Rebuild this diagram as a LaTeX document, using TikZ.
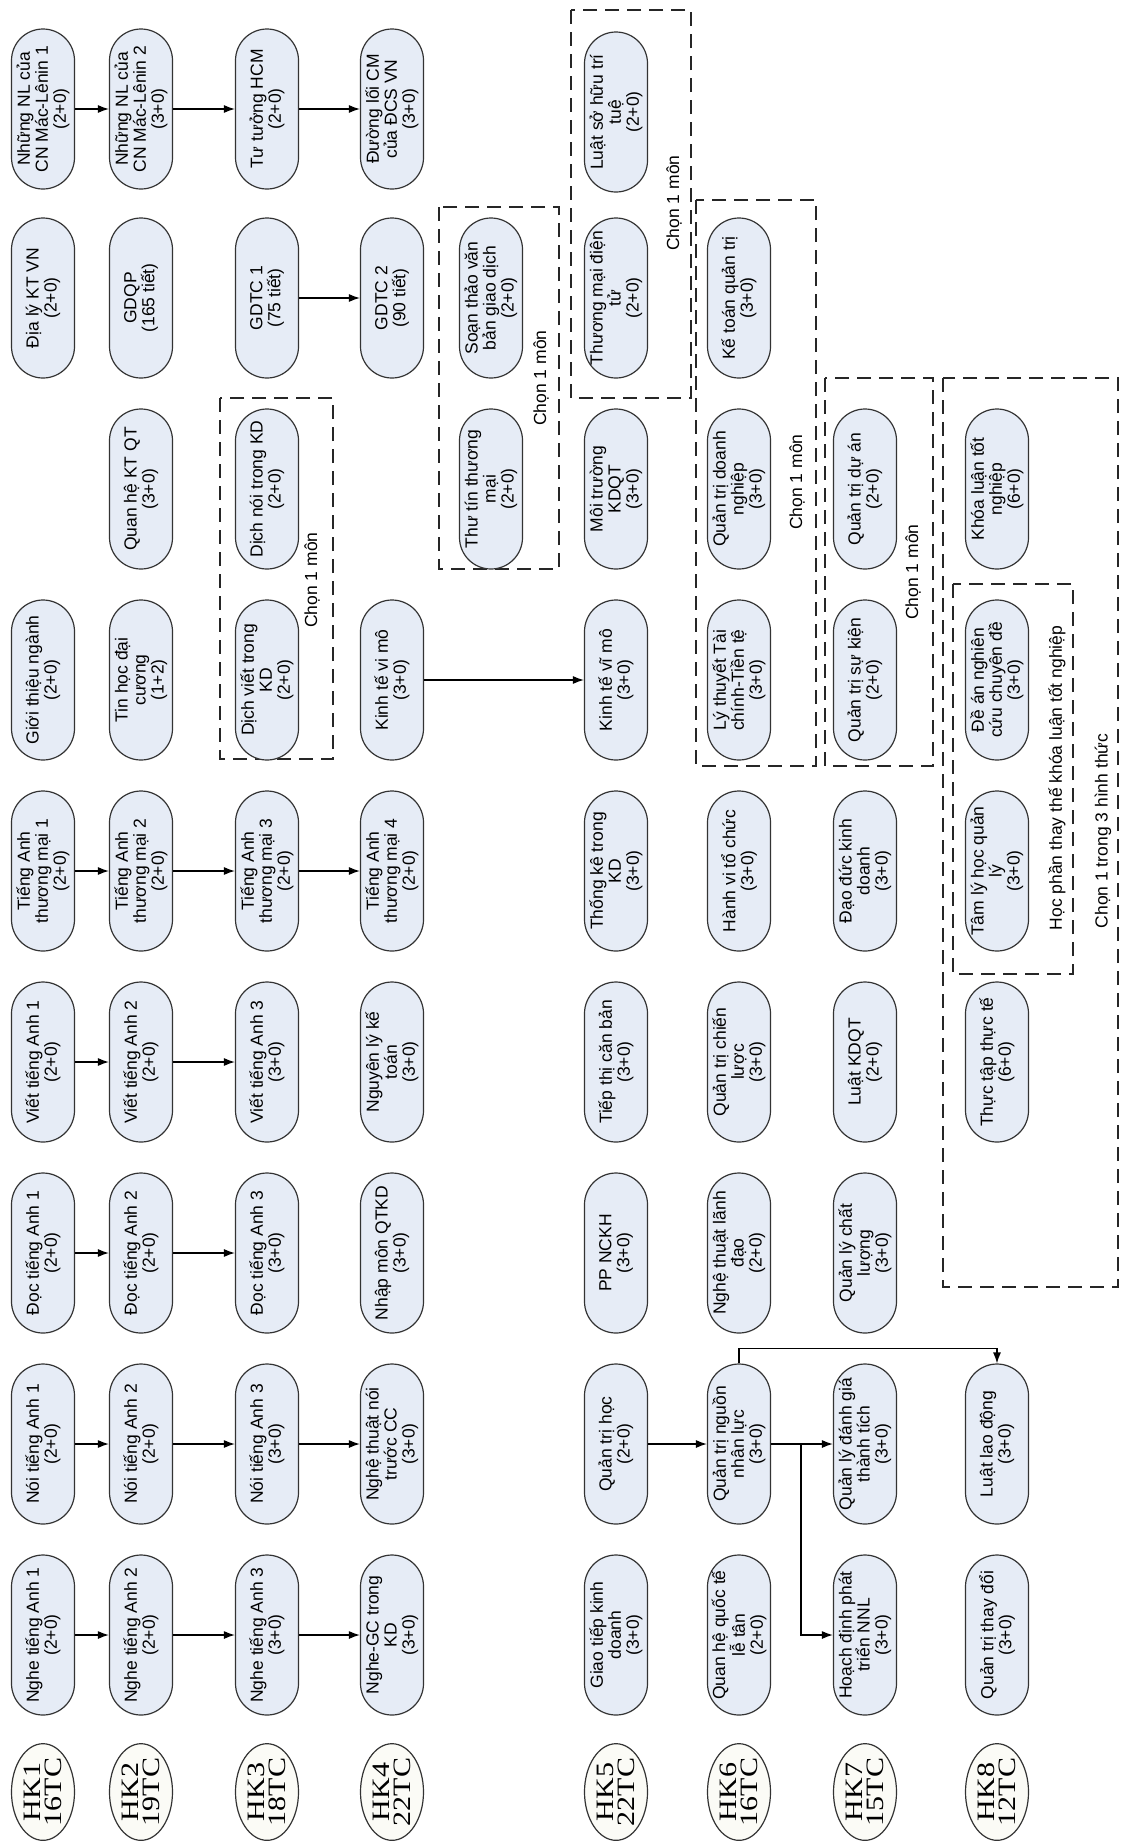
\documentclass[tikz,border=0pt]{standalone}
\usepackage{fontspec}
\usepackage{graphicx}
\setmainfont{Liberation Sans}
\newfontfamily\hkfont{Liberation Serif}
\usetikzlibrary{shapes.geometric,arrows.meta}
\definecolor{cfill}{HTML}{E6ECF6}
\definecolor{hkfill}{HTML}{FBFBF6}
\begin{document}
\begin{tikzpicture}[x=1pt,y=1pt,
 course/.style={draw=black!80, line width=1.2pt, fill=cfill, rectangle, rounded corners=31.5pt,
   minimum width=160pt, minimum height=63pt, inner sep=1pt, align=center, rotate=90,
   font=\fontsize{17.5}{18}\selectfont},
 hk/.style={draw=black!80, line width=1.2pt, fill=hkfill, ellipse, minimum width=95pt,
   minimum height=63pt, inner sep=0pt, rotate=90, align=center,
   font=\hkfont\fontsize{25}{21}\selectfont},
 chbox/.style={draw=black!85, line width=1.3pt, dash pattern=on 14pt off 8pt},
 lbl/.style={rotate=90, font=\fontsize{17.5}{18}\selectfont, inner sep=0pt},
 arr/.style={draw=black, line width=1.2pt, -{Latex[length=11pt,width=8pt]}}]
\fill[white] (0,0) rectangle (1122,-1842);
\useasboundingbox (0,0) rectangle (1122,-1842);

% dashed choice boxes
\draw[chbox] (220,-398) rectangle (333,-759);
\draw[chbox] (439,-207) rectangle (559,-569);
\draw[chbox] (571,-10) rectangle (691,-398);
\draw[chbox] (696,-200) rectangle (816,-766);
\draw[chbox] (825,-378) rectangle (933,-766);
\draw[chbox] (943,-378) rectangle (1118,-1287);
\draw[chbox] (953,-584) rectangle (1073,-974);

% semester labels
\foreach \x/\n/\t/\nm in {43/1/16/h1,141/2/19/h2,267/3/18/h3,392/4/22/h4,616/5/22/h5,739/6/16/h6,865/7/15/h7,997/8/12/h8}{
  \node[hk] (\nm) at (\x,-1792) {\scalebox{1.2}[1]{HK\n}\\\scalebox{1.2}[1]{\t TC}};
}

% HK1
\node[course] (n11) at (43,-1635) {Nghe tiếng Anh 1\\(2+0)};
\node[course] (n12) at (43,-1444) {Nói tiếng Anh 1\\(2+0)};
\node[course] (n13) at (43,-1253) {Đọc tiếng Anh 1\\(2+0)};
\node[course] (n14) at (43,-1062) {Viết tiếng Anh 1\\(2+0)};
\node[course] (n15) at (43,-871) {Tiếng Anh\\thương mại 1\\(2+0)};
\node[course] (n16) at (43,-680) {Giới thiệu ngành\\(2+0)};
\node[course] (n18) at (43,-298) {Địa lý KT VN\\(2+0)};
\node[course] (n19) at (43,-109) {Những NL của\\CN Mác-Lênin 1\\(2+0)};

% HK2
\node[course] (n21) at (141,-1635) {Nghe tiếng Anh 2\\(2+0)};
\node[course] (n22) at (141,-1444) {Nói tiếng Anh 2\\(2+0)};
\node[course] (n23) at (141,-1253) {Đọc tiếng Anh 2\\(2+0)};
\node[course] (n24) at (141,-1062) {Viết tiếng Anh 2\\(2+0)};
\node[course] (n25) at (141,-871) {Tiếng Anh\\thương mại 2\\(2+0)};
\node[course] (n26) at (141,-680) {Tin học đại\\cương\\(1+2)};
\node[course] (n27) at (141,-489) {Quan hệ KT QT\\(3+0)};
\node[course] (n28) at (141,-298) {GDQP\\(165 tiết)};
\node[course] (n29) at (141,-109) {Những NL của\\CN Mác-Lênin 2\\(3+0)};

% HK3
\node[course] (n31) at (267,-1635) {Nghe tiếng Anh 3\\(3+0)};
\node[course] (n32) at (267,-1444) {Nói tiếng Anh 3\\(3+0)};
\node[course] (n33) at (267,-1253) {Đọc tiếng Anh 3\\(3+0)};
\node[course] (n34) at (267,-1062) {Viết tiếng Anh 3\\(3+0)};
\node[course] (n35) at (267,-871) {Tiếng Anh\\thương mại 3\\(2+0)};
\node[course] (n36) at (267,-680) {Dịch viết trong\\KD\\(2+0)};
\node[course] (n37) at (267,-489) {Dịch nói trong KD\\(2+0)};
\node[course] (n38) at (267,-298) {GDTC 1\\(75 tiết)};
\node[course] (n39) at (267,-109) {Tư tưởng HCM\\(2+0)};
\node[lbl] (l3) at (312,-580) {Chọn 1 môn};

% HK4
\node[course] (n41) at (392,-1635) {Nghe-GC trong\\KD\\(3+0)};
\node[course] (n42) at (392,-1444) {Nghệ thuật nói\\trước CC\\(3+0)};
\node[course] (n43) at (392,-1253) {Nhập môn QTKD\\(3+0)};
\node[course] (n44) at (392,-1062) {Nguyên lý kế\\toán\\(3+0)};
\node[course] (n45) at (392,-871) {Tiếng Anh\\thương mại 4\\(2+0)};
\node[course] (n46) at (392,-680) {Kinh tế vi mô\\(3+0)};
\node[course] (n48) at (392,-298) {GDTC 2\\(90 tiết)};
\node[course] (n49) at (392,-109) {Đường lối CM\\của ĐCS VN\\(3+0)};

% electives between HK4 and HK5
\node[course] (nb7) at (491,-489) {Thư tín thương\\mại\\(2+0)};
\node[course] (nb8) at (491,-298) {Soạn thảo văn\\bản giao dịch\\(2+0)};
\node[lbl] (lb) at (541,-378) {Chọn 1 môn};

% HK5
\node[course] (n51) at (616,-1635) {Giao tiếp kinh\\doanh\\(3+0)};
\node[course] (n52) at (616,-1444) {Quản trị học\\(2+0)};
\node[course] (n53) at (616,-1253) {PP NCKH\\(3+0)};
\node[course] (n54) at (616,-1062) {Tiếp thị căn bản\\(3+0)};
\node[course] (n55) at (616,-871) {Thống kê trong\\KD\\(3+0)};
\node[course] (n56) at (616,-680) {Kinh tế vĩ mô\\(3+0)};
\node[course] (n57) at (616,-489) {Môi trường\\KDQT\\(3+0)};
\node[course] (n58) at (616,-298) {Thương mại điện\\tử\\(2+0)};
\node[course] (n59) at (616,-112) {Luật sở hữu trí\\tuệ\\(2+0)};
\node[lbl] (l5) at (674,-203) {Chọn 1 môn};

% HK6
\node[course] (n61) at (739,-1635) {Quan hệ quốc tế\\lễ tân\\(2+0)};
\node[course] (n62) at (739,-1444) {Quản trị nguồn\\nhân lực\\(3+0)};
\node[course] (n63) at (739,-1253) {Nghệ thuật lãnh\\đạo\\(2+0)};
\node[course] (n64) at (739,-1062) {Quản trị chiến\\lược\\(3+0)};
\node[course] (n65) at (739,-871) {Hành vi tổ chức\\(3+0)};
\node[course] (n66) at (739,-680) {Lý thuyết Tài\\chính-Tiền tệ\\(3+0)};
\node[course] (n67) at (739,-489) {Quản trị doanh\\nghiệp\\(3+0)};
\node[course] (n68) at (739,-298) {Kế toán quản trị\\(3+0)};
\node[lbl] (l6) at (797,-482) {Chọn 1 môn};

% HK7
\node[course] (n71) at (865,-1635) {Hoạch định phát\\triển NNL\\(3+0)};
\node[course] (n72) at (865,-1444) {Quản lý đánh giá\\thành tích\\(3+0)};
\node[course] (n73) at (865,-1253) {Quản lý chất\\lượng\\(3+0)};
\node[course] (n74) at (865,-1062) {Luật KDQT\\(2+0)};
\node[course] (n75) at (865,-871) {Đạo đức kinh\\doanh\\(3+0)};
\node[course] (n76) at (865,-680) {Quản trị sự kiện\\(2+0)};
\node[course] (n77) at (865,-489) {Quản trị dự án\\(2+0)};
\node[lbl] (l7) at (913,-572) {Chọn 1 môn};

% HK8
\node[course] (n81) at (997,-1635) {Quản trị thay đổi\\(3+0)};
\node[course] (n82) at (997,-1444) {Luật lao động\\(3+0)};
\node[course] (n84) at (997,-1062) {Thực tập thực tế\\(6+0)};
\node[course] (n85) at (997,-871) {Tâm lý học quản\\lý\\(3+0)};
\node[course] (n86) at (997,-680) {Đề án nghiên\\cứu chuyên đề\\(3+0)};
\node[course] (n87) at (997,-489) {Khóa luận tốt\\nghiệp\\(6+0)};
\node[lbl] (lg) at (1057,-778) {Học phần thay thế khóa luận tốt nghiệp};
\node[lbl] (lf) at (1103,-831) {Chọn 1 trong 3 hình thức};

% prerequisites
\draw[arr] (n11) -- (n21);
\draw[arr] (n21) -- (n31);
\draw[arr] (n31) -- (n41);
\draw[arr] (n12) -- (n22);
\draw[arr] (n22) -- (n32);
\draw[arr] (n32) -- (n42);
\draw[arr] (n13) -- (n23);
\draw[arr] (n23) -- (n33);
\draw[arr] (n14) -- (n24);
\draw[arr] (n24) -- (n34);
\draw[arr] (n15) -- (n25);
\draw[arr] (n25) -- (n35);
\draw[arr] (n35) -- (n45);
\draw[arr] (n46) -- (n56);
\draw[arr] (n38) -- (n48);
\draw[arr] (n19) -- (n29);
\draw[arr] (n29) -- (n39);
\draw[arr] (n39) -- (n49);
\draw[arr] (n52) -- (n62);
\draw[arr] (n62) -- (n72);
\coordinate (br) at (801,-1444);
\draw[arr] (br) |- (n71);
\draw[arr] (n62.east) -- ++(0,15) -| (n82.east);
\end{tikzpicture}
\end{document}
